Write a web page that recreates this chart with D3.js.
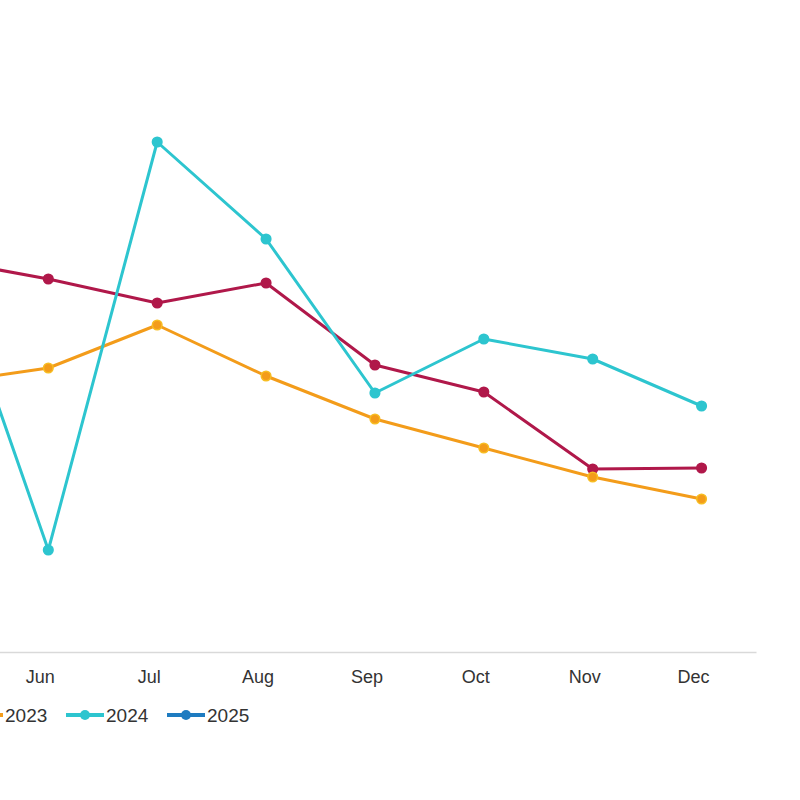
<!DOCTYPE html>
<html>
<head>
<meta charset="utf-8">
<script src="https://cdn.jsdelivr.net/npm/d3@7"></script>
<style>
	body { margin: 0; background: #fff; }
	.chart { width: 800px; height: 800px; overflow: hidden; }
	text { font-family: "Liberation Sans", Arial, sans-serif; fill: #333; }
</style>
</head>
<body>
<div class="chart"></div>
<script>
//Data: months and one value array per year (Jan-Apr lie outside the visible area)
const MONTHS = ['Jan','Feb','Mar','Apr','May','Jun','Jul','Aug','Sep','Oct','Nov','Dec'];
const YEARS = ['2022','2023','2024','2025'];
const COLORS = ['#b0184a','#f39c1a','#2dc5cf','#1e7bc0'];
const POINT_STROKE = ['#b0184a','#f7bd22','#2dc5cf','#1e7bc0'];

const values2022 = [null,null,null,null,39.3,37.3,34.9,36.9,28.7,26.0,18.3,18.4];
const values2023 = [null,null,null,null,26.8,28.4,32.7,27.6,23.3,20.4,17.5,15.3];
const values2024 = [null,null,null,null,41.5,10.2,51.0,41.3,25.9,31.3,29.3,24.6];
const values2025 = [null,null,null,null,null,null,null,null,null,null,null,null];

const series = [values2022, values2023, values2024, values2025].map(function(vals, i){
	return {
		year: YEARS[i],
		color: COLORS[i],
		pointStroke: POINT_STROKE[i],
		values: vals.map(function(v, j){ return {month: MONTHS[j], value: v}; })
	};
});

//Prep work
const W = 800;
const H = 800;

const svg = d3.select('.chart')
	.append('svg')
		.attr('width', W)
		.attr('height', H);

//The plot is wider than the window; only Jun-Dec fall inside it
const scaleX = d3.scaleBand().domain(MONTHS).range([-550.5, 756]).padding(0);
const scaleY = d3.scaleLinear().domain([0, 60]).range([652, 52]);

//only label months whose tick sits inside the window
const visibleMonths = MONTHS.filter(function(m){ return scaleX(m) + scaleX.bandwidth()/2 > 0; });

//x axis
const axisX = d3.axisBottom(scaleX)
	.tickValues(visibleMonths)
	.tickSize(0).tickSizeOuter(0).tickPadding(18);
const axisG = svg.append('g')
	.attr('class','axis-x')
	.attr('transform', 'translate(0, 652)')
	.call(axisX);
axisG.select('.domain')
	.style('stroke', '#d9d9d9')
	.style('stroke-width', '1.5px');
axisG.selectAll('.tick text')
	.attr('dx', -8)
	.style('font-size', '18px')
	.style('fill', '#333')
	.style('font-family', '"Liberation Sans", Arial, sans-serif');

//lines
const line = d3.line()
	.defined(function(d){ return d.value !== null; })
	.x(function(d){ return scaleX(d.month) + scaleX.bandwidth()/2; })
	.y(function(d){ return scaleY(d.value); });

const seriesG = svg.selectAll('.series')
	.data(series)
	.enter()
	.append('g').attr('class','series');

seriesG.append('path')
	.attr('d', function(d){ return line(d.values); })
	.style('fill', 'none')
	.style('stroke', function(d){ return d.color; })
	.style('stroke-width', '3px')
	.style('stroke-linejoin', 'round');

seriesG.each(function(s){
	d3.select(this).selectAll('circle')
		.data(s.values.filter(function(d){ return d.value !== null; }))
		.enter()
		.append('circle')
		.attr('cx', function(d){ return scaleX(d.month) + scaleX.bandwidth()/2; })
		.attr('cy', function(d){ return scaleY(d.value); })
		.attr('r', 4.8)
		.style('fill', s.color)
		.style('stroke', s.pointStroke)
		.style('stroke-width', '1.5px');
});

//legend (the first entry sits left of the window)
const legendX = d3.scaleLinear().domain([0, 1]).range([-136, -35]);
const legend = svg.selectAll('.legend-item')
	.data(series)
	.enter()
	.append('g')
		.attr('class','legend-item')
		.attr('transform', function(d, i){ return `translate(${legendX(i)}, 715)`; });

legend.append('line')
	.attr('x1', 0).attr('x2', 38)
	.attr('y1', 0).attr('y2', 0)
	.style('stroke', function(d){ return d.color; })
	.style('stroke-width', '4px');
legend.append('circle')
	.attr('cx', 19).attr('cy', 0).attr('r', 5)
	.style('fill', function(d){ return d.color; });
legend.filter(function(d, i){ return legendX(i) + 40 >= 0; })
	.append('text')
	.attr('x', 40)
	.attr('y', 7)
	.style('font-size', '19px')
	.text(function(d){ return d.year; });
</script>
</body>
</html>
